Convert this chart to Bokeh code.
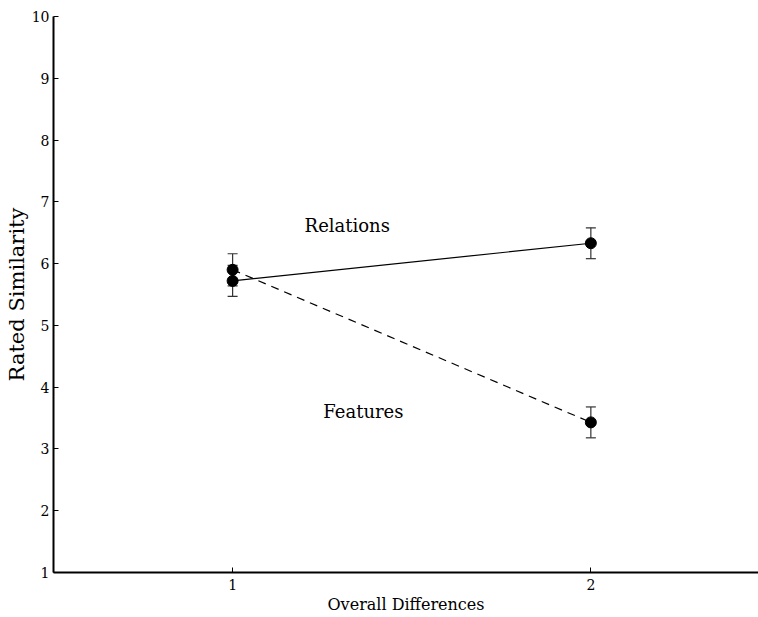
from bokeh.plotting import figure
from bokeh.models import ColumnDataSource, Whisker, TeeHead, Range1d, FixedTicker, Label
from bokeh.embed import file_html
from bokeh.resources import INLINE

x_levels = [1, 2]
relations = [5.72, 6.33]
relations_err = [0.25, 0.25]
features = [5.90, 3.43]
features_err = [0.26, 0.25]
y_ticks = [1, 2, 3, 4, 5, 6, 7, 8, 9, 10]
x_ticks = [1, 2]
x_title = "Overall Differences"
y_title = "Rated Similarity"
series_labels = ["Relations", "Features"]

FONT = "DejaVu Serif"

p = figure(width=758, height=617, output_backend="svg", toolbar_location=None,
           x_range=Range1d(0.5, 2.468), y_range=Range1d(1, 10),
           min_border_left=53, min_border_right=0, min_border_top=16, min_border_bottom=45)
p.outline_line_color = None
p.xgrid.visible = False
p.ygrid.visible = False

for ax in (p.xaxis, p.yaxis):
    ax.axis_line_width = 2
    ax.axis_line_color = "black"
    ax.major_tick_in = 5
    ax.major_tick_out = 0
    ax.minor_tick_line_color = None
    ax.major_tick_line_color = "black"
    ax.major_label_text_font = FONT
    ax.major_label_text_font_size = "14px"
    ax.major_label_text_color = "black"
    ax.axis_label_text_font = FONT
    ax.axis_label_text_font_style = "normal"
    ax.axis_label_text_color = "black"

p.xaxis.axis_label_text_font_size = "16px"
p.yaxis.axis_label_text_font_size = "21px"
p.xaxis.ticker = FixedTicker(ticks=x_ticks)
p.yaxis.ticker = FixedTicker(ticks=y_ticks)
p.xaxis.axis_label = x_title
p.yaxis.axis_label = y_title
p.xaxis.major_label_standoff = 6
p.yaxis.major_label_standoff = 4
p.xaxis.axis_label_standoff = 2
p.yaxis.axis_label_standoff = 0

rel = ColumnDataSource(dict(x=x_levels, y=relations,
                            lo=[v - e for v, e in zip(relations, relations_err)],
                            hi=[v + e for v, e in zip(relations, relations_err)]))
fea = ColumnDataSource(dict(x=x_levels, y=features,
                            lo=[v - e for v, e in zip(features, features_err)],
                            hi=[v + e for v, e in zip(features, features_err)]))

p.line("x", "y", source=rel, line_color="black", line_width=1.2)
p.line("x", "y", source=fea, line_color="black", line_width=1.2, line_dash="8 6")

for src in (rel, fea):
    w = Whisker(base="x", upper="hi", lower="lo", source=src,
                line_color="#333333", line_width=1.2,
                upper_head=TeeHead(size=10, line_color="#333333", line_width=1.2),
                lower_head=TeeHead(size=10, line_color="#333333", line_width=1.2))
    p.add_layout(w)

p.scatter("x", "y", source=rel, size=11, fill_color="black", line_color="black")
p.scatter("x", "y", source=fea, size=11, fill_color="black", line_color="black")

p.add_layout(Label(x=1.32, y=6.61, text=series_labels[0], text_align="center",
                   text_baseline="middle", text_font=FONT, text_font_size="18px", text_color="black"))
p.add_layout(Label(x=1.365, y=3.61, text=series_labels[1], text_align="center",
                   text_baseline="middle", text_font=FONT, text_font_size="18px", text_color="black"))

open("out.html", "w").write(file_html(p, INLINE))
